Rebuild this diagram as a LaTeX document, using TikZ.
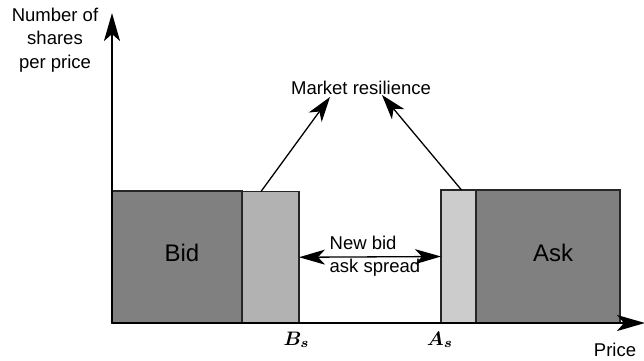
\documentclass[tikz,border=0pt]{standalone}
\usepackage{fontspec}
\setmainfont{Liberation Sans}
\usepackage{bm}
\usetikzlibrary{arrows.meta,calc}
\newcommand{\biglabel}[1]{\scalebox{1.95}{$\bm{#1}$}}
\begin{document}
\begin{tikzpicture}[x=1pt,y=-1pt,
  txt/.style={font=\fontsize{18.5}{23.5}\selectfont, inner sep=0pt},
  boxlabel/.style={font=\fontsize{24}{28}\selectfont, inner sep=0pt},
  mathlabel/.style={inner sep=0pt},
  bar/.style={draw=black!85, line width=1.3pt, inner sep=0pt, outer sep=0pt},
  axisline/.style={line width=2pt, -{Stealth[length=28pt,width=16pt,inset=7pt]}},
  pointer/.style={line width=1.3pt, -{Stealth[length=25pt,width=16pt,inset=7pt]}},
  spreadarrow/.style={line width=1.3pt, {Stealth[length=26pt,width=15pt,inset=7pt]}-{Stealth[length=26pt,width=15pt,inset=7pt]}}
]
\useasboundingbox (0,0) rectangle (644,360);

% bars
\node[bar, fill=black!50, minimum width=130pt, minimum height=132pt] (bid) at (177,257) {};
\node[bar, fill=black!30, minimum width=57pt, minimum height=131.5pt] (bidnew) at (270.5,257.25) {};
\node[bar, fill=black!20, minimum width=34.5pt, minimum height=133pt] (asknew) at (458.25,256.5) {};
\node[bar, fill=black!50, minimum width=144pt, minimum height=133pt] (ask) at (548,256.5) {};

\node[boxlabel] (bidtext) at (182,253) {Bid};
\node[boxlabel] (asktext) at (553,253) {Ask};

% axes
\coordinate (origin) at (112,323);
\coordinate (ytip) at (112,13);
\coordinate (xtip) at (645,323);
\draw[axisline] (origin) -- (ytip);
\draw[axisline] (origin) -- (xtip);

\node[txt, align=center, anchor=north] (ylabel) at (55,7.5) {Number of\\shares\\per price};
\node[txt, anchor=base] (xlabel) at (615,356) {Price};

% market resilience
\node[txt, anchor=base] (mr) at (361,94) {Market resilience};
\coordinate (mrleft) at (330,97);
\coordinate (mrright) at (382,95);
\draw[pointer] ([xshift=19pt]bidnew.north west) -- (mrleft);
\draw[pointer] ([xshift=20.5pt]asknew.north west) -- (mrright);

% spread
\draw[spreadarrow] (bidnew.east) -- (asknew.west);
\node[txt, align=left, anchor=west] (spread) at (329.5,256) {New bid\\ask spread};

% price labels
\node[mathlabel, anchor=base] (bs) at (296.5,345) {\biglabel{B_s}};
\node[mathlabel, anchor=base] (as) at (440,345) {\biglabel{A_s}};
\end{tikzpicture}
\end{document}
